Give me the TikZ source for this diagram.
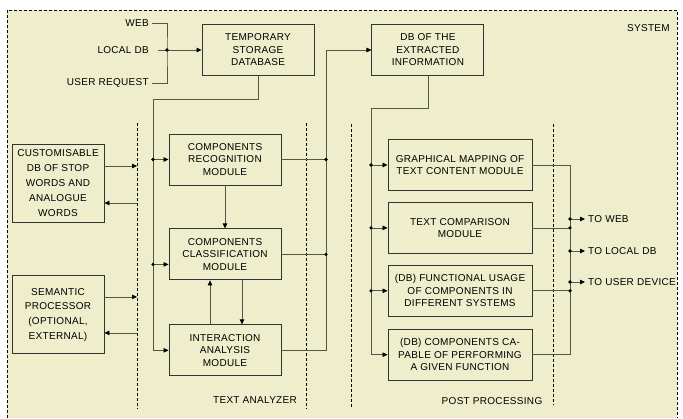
\documentclass[tikz,border=0pt]{standalone}
\usepackage{fontspec}
\setmainfont{Liberation Sans}[LetterSpace=3]
\usepackage{xcolor}
\usetikzlibrary{arrows.meta,positioning}
\definecolor{sysbg}{HTML}{EEEDCC}
\definecolor{linegray}{HTML}{55554A}

\begin{document}
\begin{tikzpicture}[
  x=1pt, y=-1pt,
  font=\fontsize{10}{12.5}\selectfont,
  box/.style={rectangle, draw=black!80, line width=0.9pt, minimum width=112pt, minimum height=51pt, align=center, inner sep=2pt},
  widebox/.style={box, minimum width=144pt},
  sidebox/.style={box, minimum width=92pt, minimum height=78pt, font=\fontsize{10}{14.8}\selectfont},
  lbl/.style={inner sep=0pt},
  intxt/.style={anchor=east, inner xsep=3pt, inner ysep=0pt},
  outtxt/.style={anchor=west, inner xsep=3pt, inner ysep=0pt},
  line/.style={draw=linegray, line width=0.8pt},
  arr/.style={line, -{Triangle[length=5pt,width=4.5pt,color=black]}},
  divider/.style={draw=black, dash pattern=on 3pt off 2pt, line width=0.6pt}
]
\useasboundingbox (0,0) rectangle (683,418);

% System frame
\fill[sysbg] (7,10) rectangle (677,418);
\draw[divider] (7,418) -- (7,10) -- (677,10) -- (677,418);
\node[lbl, anchor=east] (sys) at (670,28) {SYSTEM};

% Section dividers
\coordinate (taL) at (137,123);
\coordinate (taR) at (306,123);
\coordinate (ppL) at (351,124);
\coordinate (ppR) at (553,124);
\draw[divider] (taL) -- ++(0,286);
\draw[divider] (taR) -- ++(0,286);
\draw[divider] (ppL) -- ++(0,284);
\draw[divider] (ppR) -- ++(0,281);

% Inputs
\node[intxt] (web) at (152,23) {WEB};
\node[intxt] (ldb) at (152,50) {LOCAL DB};
\node[intxt] (usr) at (152,83) {USER REQUEST};

% Storage
\node[box] (tmp) at (258,50) {TEMPORARY\\STORAGE\\DATABASE};
\node[box, right=57pt of tmp] (ext) {DB OF THE\\EXTRACTED\\INFORMATION};

% Side databases
\node[sidebox] (stop) at (58,183) {CUSTOMISABLE\\DB OF STOP\\WORDS AND\\ANALOGUE\\WORDS};
\node[sidebox, below=53pt of stop] (sem) {SEMANTIC\\PROCESSOR\\(OPTIONAL,\\EXTERNAL)};

% Text analyzer
\node[box] (rec) at (225,159.5) {COMPONENTS\\RECOGNITION\\MODULE};
\node[box, below=43pt of rec] (cls) {COMPONENTS\\CLASSIFICATION\\MODULE};
\node[box, below=44pt of cls] (ia) {INTERACTION\\ANALYSIS\\MODULE};
\node[lbl] (tan) at (255,400) {TEXT ANALYZER};

% Post processing
\node[widebox] (gmap) at (460,165) {GRAPHICAL MAPPING OF\\TEXT CONTENT MODULE};
\node[widebox, below=11pt of gmap] (tcmp) {TEXT COMPARISON\\MODULE};
\node[widebox, below=11pt of tcmp] (func) {(DB) FUNCTIONAL USAGE\\OF COMPONENTS IN\\DIFFERENT SYSTEMS};
\node[widebox, below=12pt of func] (capa) {(DB) COMPONENTS CA-\\PABLE OF PERFORMING\\A GIVEN FUNCTION};
\node[lbl] (pp) at (492,401) {POST PROCESSING};

% Outputs
\node[outtxt] (oweb) at (585,219) {TO WEB};
\node[outtxt] (oldb) at (585,251) {TO LOCAL DB};
\node[outtxt] (odev) at (585,282) {TO USER DEVICE};

% Bus coordinates
\coordinate (jn) at (167,50);
\coordinate (busL) at (153,99);
\coordinate (busR) at (326,50);
\coordinate (busP) at (371,108);
\coordinate (busO) at (570,165);

% Arrows: input
\draw[line] (web.east) -| (jn) |- (usr.east);
\draw[arr] ([xshift=6pt]ldb.east) -- (tmp.west);

% Arrows: text analyzer
\draw[arr] (tmp.south) |- (busL) |- (ia.west);
\draw[arr] (busL |- rec.west) coordinate (d1) -- (rec.west);
\draw[arr] ([yshift=-10pt]busL |- cls.west) coordinate (d2) -- ([yshift=-10pt]cls.west);
\draw[arr] (rec) -- (cls);
\draw[arr] ([xshift=17pt]cls.south) -- ([xshift=17pt]ia.north);
\draw[arr] ([xshift=-15pt]ia.north) -- ([xshift=-15pt]cls.south);
\draw[arr] (ia.east) -| (busR) -- (ext.west);
\draw[line] (rec.east) -- (rec.east -| busR) coordinate (d3);
\draw[line] (cls.east) -- (cls.east -| busR) coordinate (d4);

% Arrows: side databases
\draw[arr] ([yshift=17pt]stop.east) -- ([yshift=17pt]stop.east -| taL);
\draw[arr] ([yshift=-20pt]stop.east -| taL) -- ([yshift=-20pt]stop.east);
\draw[arr] ([yshift=18pt]sem.east) -- ([yshift=18pt]sem.east -| taL);
\draw[arr] ([yshift=-18pt]sem.east -| taL) -- ([yshift=-18pt]sem.east);

% Arrows: post processing
\draw[arr] (ext.south) |- (busP) |- (capa.west);
\draw[arr] (busP |- gmap.west) coordinate (d5) -- (gmap.west);
\draw[arr] (busP |- tcmp.west) coordinate (d6) -- (tcmp.west);
\draw[arr] (busP |- func.west) coordinate (d7) -- (func.west);
\draw[line] (gmap.east) -| (busO) |- (capa.east);
\draw[line] (tcmp.east) -- (tcmp.east -| busO) coordinate (d8);
\draw[line] (func.east) -- (func.east -| busO) coordinate (d9);
\draw[arr] (busO |- oweb.west) coordinate (d10) -- (oweb.west);
\draw[arr] (busO |- oldb.west) coordinate (d11) -- (oldb.west);
\draw[arr] (busO |- odev.west) coordinate (d12) -- (odev.west);

% Junction dots
\foreach \d in {jn,d1,d2,d3,d4,d5,d6,d7,d8,d9,d10,d11,d12}
  \fill (\d) circle (1.8pt);

\end{tikzpicture}
\end{document}
